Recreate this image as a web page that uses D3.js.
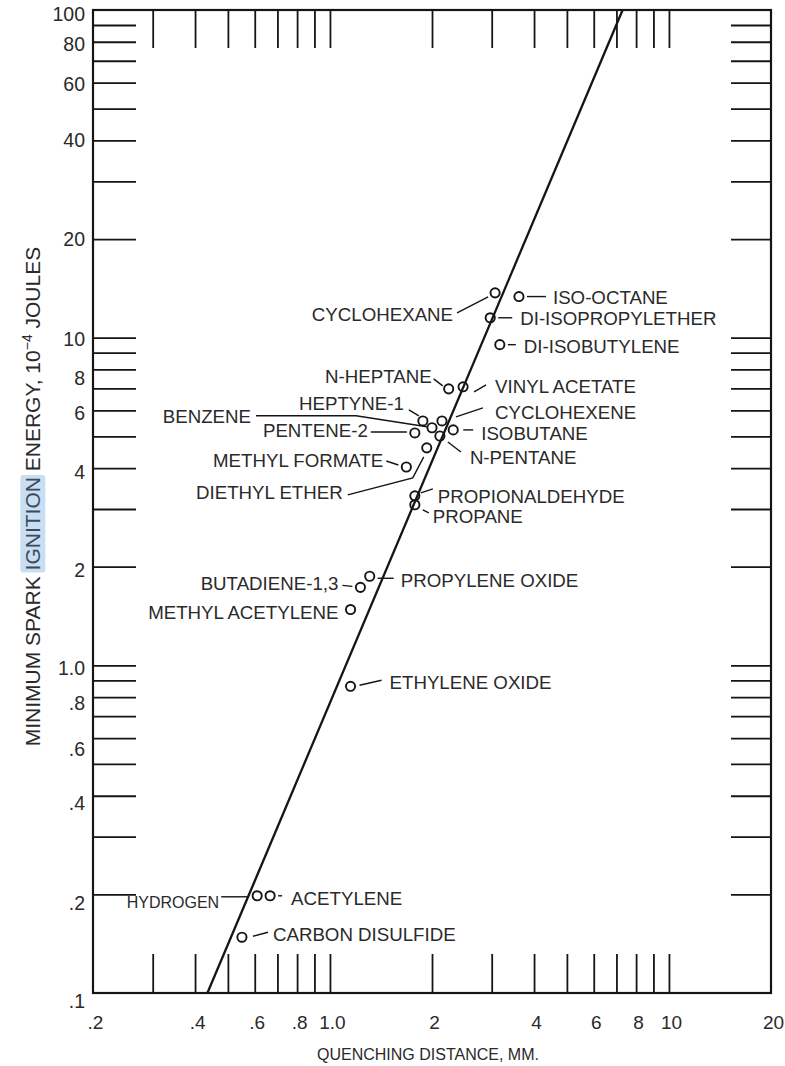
<!DOCTYPE html>
<html><head><meta charset="utf-8">
<script src="https://cdn.jsdelivr.net/npm/d3@7"></script>
<style>
html,body{margin:0;padding:0;background:#fff;}
svg{display:block;font-family:"Liberation Sans",Arial,Helvetica,sans-serif;}
</style></head><body>
<svg id="chart" width="785" height="1066"></svg>
<script>
// ---------------- data ----------------
const fuels = ["CYCLOHEXANE","ISO-OCTANE","DI-ISOPROPYLETHER","DI-ISOBUTYLENE","N-HEPTANE","VINYL ACETATE",
  "HEPTYNE-1","BENZENE","CYCLOHEXENE","ISOBUTANE","N-PENTANE","PENTENE-2","DIETHYL ETHER","METHYL FORMATE",
  "PROPIONALDEHYDE","PROPANE","PROPYLENE OXIDE","BUTADIENE-1,3","METHYL ACETYLENE","ETHYLENE OXIDE",
  "HYDROGEN","ACETYLENE","CARBON DISULFIDE"];
const quenchingDistance = [3.07,3.61,2.97,3.17,2.24,2.47,1.88,2.00,2.14,2.31,2.11,1.78,1.93,1.68,1.78,1.78,1.31,1.23,1.15,1.15,0.61,0.666,0.55];
const ignitionEnergy   = [13.7,13.35,11.5,9.52,6.98,7.08,5.57,5.31,5.57,5.23,5.01,5.12,4.61,4.03,3.29,3.09,1.87,1.73,1.48,0.863,0.198,0.198,0.148];
const fitLineX = [0.435, 7.3];
const fitLineY = [0.1, 100];
const xTickValues = [0.3,0.4,0.5,0.6,0.7,0.8,0.9,1,2,3,4,5,6,7,8,9,10];
const yTickValues = [0.2,0.3,0.4,0.5,0.6,0.7,0.8,0.9,1,2,3,4,5,6,7,8,9,10,20,30,40,50,60,70,80,90];
const xLabelValues = [0.2,0.4,0.6,0.8,1,2,4,6,8,10,20];
const xLabelText = [".2",".4",".6",".8","1.0","2","4","6","8","10","20"];
const yLabelValues = [100,80,60,40,20,10,8,6,4,2,1,0.8,0.6,0.4,0.2,0.1];
const yLabelText = ["100","80","60","40","20","10","8","6","4","2","1.0",".8",".6",".4",".2",".1"];
const xTitle = "QUENCHING DISTANCE, MM.";

// ---------------- layout (pixel offsets of labels relative to their point) ----------------
const labelLayout = [
  {a:"end",   dx:-42, dy:22,  lead:[[-38,20],[-7,4]]},
  {a:"start", dx:34,  dy:1,   lead:[[8,0],[27,0]]},
  {a:"start", dx:30,  dy:1,   lead:[[8,0],[22,0]]},
  {a:"start", dx:24,  dy:2,   lead:[[8,0],[16,0]]},
  {a:"end",   dx:-17, dy:-12, lead:[[-15,-10],[-6,-3]]},
  {a:"start", dx:32,  dy:0,   lead:[[11,5],[23,-2]]},
  {a:"end",   dx:-19, dy:-17, lead:[[-14,-11],[-4,-5]]},
  {a:"end",   dx:-181,dy:-11, lead:[[-176,-12],[-76,-12],[-5,-1]]},
  {a:"start", dx:53,  dy:-8,  lead:[[41,-13],[14,-4]]},
  {a:"start", dx:28,  dy:4,   lead:[[10,0],[20,0]]},
  {a:"start", dx:30,  dy:21,  lead:[[8,6],[21,16]]},
  {a:"end",   dx:-47, dy:-2,  lead:[[-44,-1],[-8,-1]]},
  {a:"end",   dx:-84, dy:45,  lead:[[-79,47],[-14,30],[-3,9]]},
  {a:"end",   dx:-23, dy:-7,  lead:[[-20,-6],[-8,-2]]},
  {a:"start", dx:23,  dy:1,   lead:[[6,-3],[18,-7]]},
  {a:"start", dx:18,  dy:12,  lead:[[8,5],[14,8]]},
  {a:"start", dx:31,  dy:4,   lead:[[8,2],[24,2]]},
  {a:"end",   dx:-22, dy:-4,  lead:[[-18,-2],[-8,-1]]},
  {a:"end",   dx:-12, dy:3,   lead:[]},
  {a:"start", dx:39,  dy:-4,  lead:[[9,-1],[31,-6]]},
  {a:"end",   dx:-38, dy:7,   lead:[[-36,1],[-9,1]], small:true},
  {a:"start", dx:21,  dy:3,   lead:[[8,0],[12,0]]},
  {a:"start", dx:31,  dy:-3,  lead:[[11,-1],[26,-5]]}
];
const yLabelNudge = [4,2,1,-1,0,1,8,2,4,3,2,6,11,7,8,8];

// ---------------- drawing ----------------
const ink = "#151515", textInk = "#2a2a2a";
const L = 93, R = 771, T = 10, B = 993;
const svg = d3.select("#chart");
const x = d3.scaleLog().domain([0.2, 20]).range([L, R]);
const y = d3.scaleLog().domain([0.1, 100]).range([B, T]);

function styleTicks(g){
  g.select(".domain").remove();
  g.selectAll(".tick line").attr("stroke", ink).attr("stroke-width", 1.8);
  g.selectAll(".tick text").remove();
}
svg.append("g").attr("transform", `translate(0,${B})`)
  .call(d3.axisTop(x).tickValues(xTickValues).tickSize(39).tickFormat("")).call(styleTicks);
svg.append("g").attr("transform", `translate(0,${T})`)
  .call(d3.axisBottom(x).tickValues(xTickValues).tickSize(38).tickFormat("")).call(styleTicks);
svg.append("g").attr("transform", `translate(${L},0)`)
  .call(d3.axisRight(y).tickValues(yTickValues).tickSize(43).tickFormat("")).call(styleTicks);
svg.append("g").attr("transform", `translate(${R},0)`)
  .call(d3.axisLeft(y).tickValues(yTickValues).tickSize(40).tickFormat("")).call(styleTicks);

// frame
svg.append("rect").attr("x", L).attr("y", T).attr("width", R - L).attr("height", B - T)
  .attr("fill", "none").attr("stroke", ink).attr("stroke-width", 2.2);

// tick labels
const gxl = svg.append("g").attr("transform", `translate(0,${B})`)
  .call(d3.axisBottom(x).tickValues(xLabelValues).tickSize(0).tickFormat((d, i) => xLabelText[i]));
gxl.select(".domain").remove();
gxl.attr("font-family", null).attr("font-size", null);
gxl.selectAll(".tick text").attr("y", 29).attr("dy", "0.35em").attr("dx", 2)
  .attr("font-size", "19px").attr("fill", textInk);

const gyl = svg.append("g").attr("transform", `translate(${L},0)`)
  .call(d3.axisLeft(y).tickValues(yLabelValues).tickSize(0).tickFormat((d, i) => yLabelText[i]));
gyl.select(".domain").remove();
gyl.attr("font-family", null).attr("font-size", null);
gyl.selectAll(".tick text").attr("x", -8).attr("dy", (d, i) => (yLabelNudge[i] + 6.8) + "px")
  .attr("font-size", "19.5px").attr("fill", textInk);

// fit line
svg.append("path")
  .datum(fitLineX.map((d, i) => [d, fitLineY[i]]))
  .attr("d", d3.line().x(d => x(d[0])).y(d => y(d[1])))
  .attr("fill", "none").attr("stroke", ink).attr("stroke-width", 2.3);

// points, leaders, labels
const pts = fuels.map((name, i) => ({name, px: x(quenchingDistance[i]), py: y(ignitionEnergy[i]), lay: labelLayout[i]}));
const leaderLine = d3.line();
svg.append("g").selectAll("path").data(pts.filter(p => p.lay.lead.length)).join("path")
  .attr("d", p => leaderLine(p.lay.lead.map(o => [p.px + o[0], p.py + o[1]])))
  .attr("fill", "none").attr("stroke", ink).attr("stroke-width", 1.4);
svg.append("g").selectAll("circle").data(pts).join("circle")
  .attr("cx", p => p.px).attr("cy", p => p.py).attr("r", 4.6)
  .attr("fill", "none").attr("stroke", ink).attr("stroke-width", 1.9);
svg.append("g").selectAll("text").data(pts).join("text")
  .attr("x", p => p.px + p.lay.dx).attr("y", p => p.py + p.lay.dy).attr("dy", "0.35em")
  .attr("text-anchor", p => p.lay.a)
  .attr("font-size", p => p.lay.small ? "16px" : "18.7px")
  .attr("fill", textInk).text(p => p.name);

// x title
svg.append("text").attr("x", 428).attr("y", 1054).attr("dy", "0.35em").attr("text-anchor", "middle")
  .attr("font-size", "16px").attr("fill", textInk).text(xTitle);

// y title with highlighted word
const gy = svg.append("g").attr("transform", "translate(33,496.5) rotate(-90)");
const hl = gy.append("rect").attr("fill", "#c8def3").attr("rx", 3);
const yt = gy.append("text").attr("text-anchor", "middle").attr("dy", "0.35em")
  .attr("font-size", "21px").attr("fill", textInk);
yt.append("tspan").text("MINIMUM SPARK ");
yt.append("tspan").attr("fill", "#3d4a5a").text("IGNITION");
yt.append("tspan").text(" ENERGY, 10");
yt.append("tspan").attr("font-size", "14px").attr("baseline-shift", "super").text("\u22124");
yt.append("tspan").text(" JOULES");
try {
  const s = yt.node().getExtentOfChar(14), e = yt.node().getExtentOfChar(21);
  hl.attr("x", s.x - 2).attr("y", s.y - 1).attr("width", e.x + e.width - s.x + 4).attr("height", s.height + 2);
} catch (err) {}
</script>
</body></html>
